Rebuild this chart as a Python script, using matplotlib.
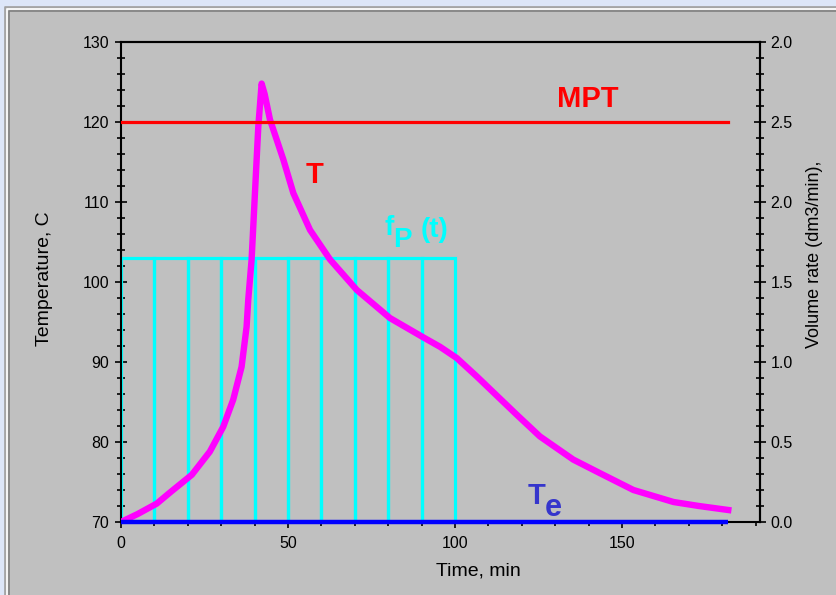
import matplotlib.pyplot as plt
from matplotlib.lines import Line2D
from matplotlib.patches import Rectangle
from matplotlib.ticker import MultipleLocator, FixedLocator


plt.switch_backend("Agg")
plt.rcParams["font.family"] = ["Liberation Sans", "DejaVu Sans"]

# temperature curve T(t)
time_min = [0, 5, 10.7, 15, 21.2, 26.6, 30.6, 33.6, 36.1, 37.6, 38.1, 39.1,
            40.1, 41.1, 42.1, 43.0, 44.6, 48.6, 51.6, 56.6, 62.6, 70.6, 80.5,
            90.0, 95.5, 100.5, 106.5, 110.5, 118.5, 125.4, 135.4, 143.4,
            153.4, 165.4, 173.0, 181.8]
temp_c = [70.0, 71.0, 72.3, 73.8, 75.9, 78.8, 81.9, 85.3, 89.4, 94.4, 97.8,
          102.8, 111.1, 119.4, 124.8, 123.5, 120.3, 115.3, 111.1, 106.5,
          102.8, 99.0, 95.5, 93.2, 91.9, 90.5, 88.2, 86.6, 83.4, 80.7, 77.8,
          76.1, 74.0, 72.5, 72.0, 71.5]

# feed rate fP(t), dm3/min, per 10 min interval
fp_start = [0, 10, 20, 30, 40, 50, 60, 70, 80, 90]
fp_rate = [1.65, 1.65, 1.65, 1.65, 1.65, 1.65, 1.65, 1.65, 1.65, 1.65]
fp_width = 10

mpt = 120.0
t_env = 70.0
t_end = 181.8

right_ticks = [0.0, 0.5, 1.0, 1.5, 2.0, 2.5, 3.0]
right_labels = ["0.0", "0.5", "1.0", "1.5", "2.0", "2.5", "2.0"]

W, H = 837, 595
fig = plt.figure(figsize=(W / 100, H / 100), dpi=100)
fig.patch.set_facecolor("#dde6f8")

# window-like grey panel with bevel
fig.add_artist(Rectangle((5 / W, 0), 1, (H - 7) / H, transform=fig.transFigure,
                         facecolor="#c0c0c0", edgecolor="none", zorder=0))
for off, col in [(0, "#a0a0a0"), (2, "#ffffff"), (4, "#808080")]:
    x0 = (5 + off) / W
    y1 = (H - 7 - off) / H
    fig.add_artist(Line2D([x0, x0, 1], [0, y1, y1], transform=fig.transFigure,
                          color=col, lw=1.2, zorder=1))

ax = fig.add_axes([121 / W, 1 - 522 / H, (760 - 121) / W, (522 - 42) / H])
ax.set_facecolor("#c0c0c0")
ax.set_xlim(0, 191.3)
ax.set_ylim(70, 130)

# rate -> temperature-axis scale (3.0 dm3/min spans 60 C)
scale = 60 / 3.0
ax.bar(fp_start, [r * scale for r in fp_rate], width=fp_width, bottom=70,
       align="edge", fill=False, edgecolor="#00ffff", linewidth=2.3, zorder=2)
ax.plot(time_min, temp_c, color="#ff00ff", lw=4.6, zorder=3,
        solid_joinstyle="round")
ax.plot([0, t_end], [mpt, mpt], color="#ff0000", lw=2.3, zorder=4)
ax.plot([0, t_end], [t_env, t_env], color="#0000ff", lw=3.2, zorder=5,
        clip_on=False, solid_capstyle="butt")

for s in ax.spines.values():
    s.set_linewidth(1.5)

ax.xaxis.set_major_locator(MultipleLocator(50))
ax.xaxis.set_minor_locator(MultipleLocator(10))
ax.yaxis.set_major_locator(MultipleLocator(10))
ax.yaxis.set_minor_locator(MultipleLocator(2))
ax.tick_params(axis="x", which="major", direction="out", length=4, width=1.2,
               labelsize=11.5, pad=6)
ax.tick_params(axis="x", which="minor", direction="out", length=3, width=1.2)
ax.tick_params(axis="y", which="major", direction="inout", length=9, width=1.2,
               labelsize=11.5, pad=4)
ax.tick_params(axis="y", which="minor", direction="inout", length=6, width=1.2)

ax2 = ax.twinx()
ax2.set_ylim(0, 3.0)
ax2.yaxis.set_major_locator(FixedLocator(right_ticks))
ax2.set_yticklabels(right_labels)
ax2.yaxis.set_minor_locator(MultipleLocator(0.1))
ax2.tick_params(axis="y", which="major", direction="inout", length=9,
                width=1.2, labelsize=11.5, pad=3)
ax2.tick_params(axis="y", which="minor", direction="inout", length=6,
                width=1.2)
ax2.spines["bottom"].set_visible(False)
ax2.spines["left"].set_visible(False)
for s in ax2.spines.values():
    s.set_linewidth(1.5)

fig.text(45 / W, 1 - 279 / H, "Temperature, C", rotation=90, fontsize=14,
         ha="center", va="center")
fig.text(478 / W, 1 - 571 / H, "Time, min", fontsize=14, ha="center",
         va="center")
fig.text(815 / W, 1 - 254 / H, "Volume rate (dm3/min),", rotation=90,
         fontsize=13, ha="center", va="center")

# curve labels
bold = dict(fontweight="bold", zorder=6)
ax.text(139.8, 122.9, "MPT", color="#ff0000", fontsize=21, ha="center",
        va="center", **bold)
ax.text(57.8, 113.4, "T", color="#ff0000", fontsize=21, ha="center",
        va="center", **bold)
ax.text(79.0, 105.9, "f", color="#00ffff", fontsize=20, ha="left",
        va="baseline", **bold)
ax.text(81.4, 104.4, "P", color="#00ffff", fontsize=20, ha="left",
        va="baseline", **bold)
ax.text(89.8, 105.6, "(t)", color="#00ffff", fontsize=20, ha="left",
        va="baseline", **bold)
ax.text(121.6, 72.3, "T", color="#3535cc", fontsize=21, ha="left",
        va="baseline", **bold)
ax.text(126.9, 70.75, "e", color="#3535cc", fontsize=22, ha="left",
        va="baseline", **bold)

fig.savefig("out.png", dpi=100, facecolor=fig.get_facecolor())
